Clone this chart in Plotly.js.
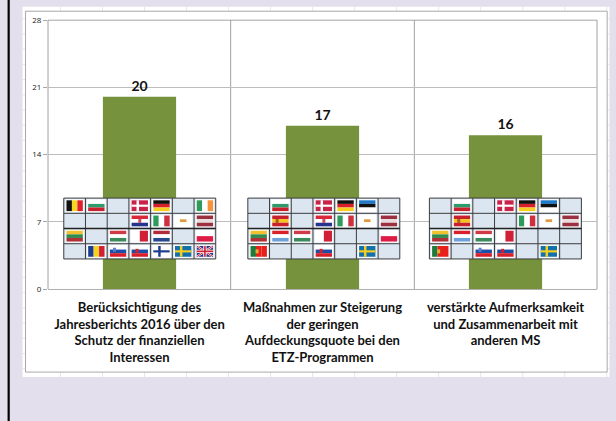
<!DOCTYPE html>
<html><head><meta charset="utf-8">
<script src="https://cdn.plot.ly/plotly-3.0.1.min.js"></script>
<style>html,body{margin:0;padding:0;background:#e3dfec}</style></head>
<body><div id="chart" style="width:616px;height:421px"></div>
<script>
const categories = ["Berücksichtigung des<br>Jahresberichts 2016 über den<br>Schutz der finanziellen<br>Interessen",
  "Maßnahmen zur Steigerung<br>der geringen<br>Aufdeckungsquote bei den<br>ETZ-Programmen",
  "verstärkte Aufmerksamkeit<br>und Zusammenarbeit mit<br>anderen MS"];
const values = [20, 17, 16];
const yTicks = [0, 7, 14, 21, 28];

// member-state grids shown over each bar ("" = empty cell)
const grid1 = [["BE","BG","","DK","DE","","IE"],["","","","HR","IT","CY","LV"],["LT","","HU","MT","NL","","PL"],["","RO","SI","SK","FI","SE","GB"]];
const grid2 = [["","BG","","DK","DE","EE",""],["","ES","","HR","IT","CY","LV"],["LT","EL","HU","MT","","","PL"],["PT","","","SK","","SE",""]];
const grid3 = [["","BG","","DK","DE","EE",""],["","ES","","","IT","CY","LV"],["LT","EL","HU","MT","","",""],["PT","","SI","SK","","SE",""]];
const grids = [grid1, grid2, grid3];
const gridLeft = [63.3, 247.7, 429.6];

// flag stripes: direction + colours
const flags = {
 BE:["v","#111111","#f5d422","#e0202c"],BG:["h","#ffffff","#2e9b6c","#c8202c"],DK:["x","#c8244a","#ffffff"],
 DE:["h","#111111","#d8202c","#f7cf1f"],IE:["v","#2e9b5c","#ffffff","#f7933c"],HR:["h","#d8283a","#ffffff","#26348f"],
 IT:["v","#2e9b5c","#ffffff","#cf3040"],CY:["c","#ffffff","#e39a3c"],LV:["h","#9b3040","#e8dcdc","#9b3040"],
 LT:["h","#f2c22e","#2f8a4e","#b03038"],HU:["h","#cf3a44","#ffffff","#3a8a5c"],MT:["v","#ffffff","#cf2038"],
 NL:["h","#b02a3c","#ffffff","#27488f"],PL:["h","#ffffff","#dc1c44"],RO:["v","#1c3c8f","#f7d020","#cf2034"],
 SI:["h","#ffffff","#1c4ea8","#d8202c"],SK:["h","#ffffff","#1c4ea8","#d8202c"],FI:["x","#ffffff","#1c3c8f"],
 SE:["x","#1270ac","#f7cf1f"],GB:["u","#26348f","#ffffff","#cf2034"],EE:["h","#1f78c8","#111111","#ffffff"],
 ES:["h","#c8202c","#f7c41f","#c8202c"],EL:["h","#d8202c","#ffffff","#6ba0d8"],PT:["v","#1f7a3c","#e8201c","#e8201c"]
};
const emblems = {HR:["#c8505c",0.5,0.5],ES:["#b05a20",0.3,0.5],PT:["#e0b030",0.4,0.5],SK:["#d8202c",0.33,0.45],SI:["#5a80c8",0.28,0.35]};

const W = 616, H = 421, L = 47.5, R = 597.5, T = 20.3, B = 289;
const px = x => (x - L) / (R - L), py = y => (B - y) / (B - T);
const shapes = [];
function rect(x0, y0, x1, y1, fill, line, lw, layer) {
  shapes.push({type:"rect", xref:"paper", yref:"paper", x0:px(x0), x1:px(x1), y0:py(y1), y1:py(y0),
    fillcolor:fill, line:{width:line?(lw||1):0, color:line||fill}, layer:layer||"above"});
}
function seg(x0, y0, x1, y1, color, lw, layer) {
  shapes.push({type:"line", xref:"paper", yref:"paper", x0:px(x0), x1:px(x1), y0:py(y0), y1:py(y1),
    line:{color:color, width:lw||1}, layer:layer||"above"});
}
// page furniture
rect(0, 0, 616, 421, "#e3dfec", null, 0, "below");
rect(7, -2, 9.2, 423, "#000000", null, 0, "below");
rect(22, 7, 610, 377, "#ffffff", null, 0, "below");
for (let x = 60; x < 610; x += 42.1) { seg(x, 7, x, 11, "#e6e6e6", 1, "below"); seg(x, 372, x, 377, "#e6e6e6", 1, "below"); }
for (let y = 19; y < 377; y += 15.2) { seg(22, y, 25, y, "#e6e6e6", 1, "below"); seg(608, y, 610, y, "#e6e6e6", 1, "below"); }
rect(25, 11.5, 607.7, 372, "#ffffff", "#a9a9a9", 1, "below");
seg(L, 20.5, R, 20.5, "#a6a6a6", 1, "below");
[47.5, 230.5, 414.5, 597.5].forEach(x => seg(x, T, x, B, "#a0a0a0", 1, "below"));

function drawFlag(code, x, y, w, h) {
  const f = flags[code], kind = f[0], cols = f.slice(1);
  rect(x - 1, y - 1, x + w + 1, y + h + 1, "#ffffff");
  if (kind === "h") cols.forEach((c, i) => rect(x, y + i * h / cols.length, x + w, y + (i + 1) * h / cols.length, c));
  if (kind === "v") cols.forEach((c, i) => rect(x + i * w / cols.length, y, x + (i + 1) * w / cols.length, y + h, c));
  if (kind === "x") {
    rect(x, y, x + w, y + h, cols[0]);
    rect(x + w * 0.3, y, x + w * 0.45, y + h, cols[1]);
    rect(x, y + h * 0.4, x + w, y + h * 0.6, cols[1]);
  }
  if (kind === "c") {
    rect(x, y, x + w, y + h, cols[0]);
    rect(x + w * 0.3, y + h * 0.35, x + w * 0.7, y + h * 0.6, cols[1]);
  }
  if (kind === "u") {
    rect(x, y, x + w, y + h, cols[0]);
    seg(x, y, x + w, y + h, cols[1], 2); seg(x, y + h, x + w, y, cols[1], 2);
    seg(x, y, x + w, y + h, cols[2], 1); seg(x, y + h, x + w, y, cols[2], 1);
    rect(x + w * 0.4, y, x + w * 0.6, y + h, cols[1]); rect(x, y + h * 0.35, x + w, y + h * 0.65, cols[1]);
    rect(x + w * 0.45, y, x + w * 0.55, y + h, cols[2]); rect(x, y + h * 0.42, x + w, y + h * 0.58, cols[2]);
  }
  const e = emblems[code];
  if (e) rect(x + w * e[1] - 1.5, y + h * e[2] - 2, x + w * e[1] + 1.5, y + h * e[2] + 2, e[0]);
}
const cw = 21.75, ch = 15.2, gridTop = 198.2;
grids.forEach((g, k) => {
  const x0 = gridLeft[k], w = cw * 7, h = ch * 4;
  rect(x0, gridTop, x0 + w, gridTop + h, "#dce6f1");
  g.forEach((row, r) => row.forEach((code, c) => {
    if (code) drawFlag(code, x0 + c * cw + 2.7, gridTop + r * ch + 2.2, 16.4, 10.8);
  }));
  for (let c = 0; c <= 7; c++) seg(x0 + c * cw, gridTop, x0 + c * cw, gridTop + h, "#3c3c3c", 1);
  for (let r = 0; r <= 4; r++) seg(x0, gridTop + r * ch, x0 + w, gridTop + r * ch, r === 2 ? "#222222" : "#3c3c3c", r === 2 ? 1.6 : 1);
});

Plotly.newPlot("chart", [{
  type:"bar", x:[0,1,2], y:values, width:0.4,
  marker:{color:"#76923c"},
  text:values.map(String), textposition:"outside", cliponaxis:false,
  textfont:{family:"Lato, 'Open Sans', sans-serif", size:14, color:"#111111", weight:700}
}], {
  width:W, height:H, showlegend:false,
  margin:{l:L, r:W-R, t:T, b:H-B, pad:0},
  paper_bgcolor:"#e3dfec", plot_bgcolor:"#ffffff",
  xaxis:{range:[-0.5,2.5], tickmode:"array", tickvals:[0,1,2], ticktext:categories.map(s=>"<b>"+s.replace(/<br>/g,"</b><br><b>")+"</b>"),
    tickangle:0, ticks:"", ticklabelstandoff:6, showgrid:false, zeroline:false, showline:true, linecolor:"#b0b0b0", linewidth:1,
    tickfont:{family:"Lato, 'Open Sans', sans-serif", size:13, color:"#111111"}, automargin:false, fixedrange:true},
  yaxis:{range:[0,28], tickmode:"array", tickvals:yTicks, ticktext:yTicks.map(String), ticks:"outside", ticklen:4, tickcolor:"#a6a6a6",
    showgrid:true, gridcolor:"#bdbdbd", gridwidth:1, zeroline:false, showline:false,
    tickfont:{family:"'Open Sans', sans-serif", size:8, color:"#222222"}, automargin:false, fixedrange:true},
  shapes:shapes
}, {displayModeBar:false, staticPlot:true});
</script></body></html>
